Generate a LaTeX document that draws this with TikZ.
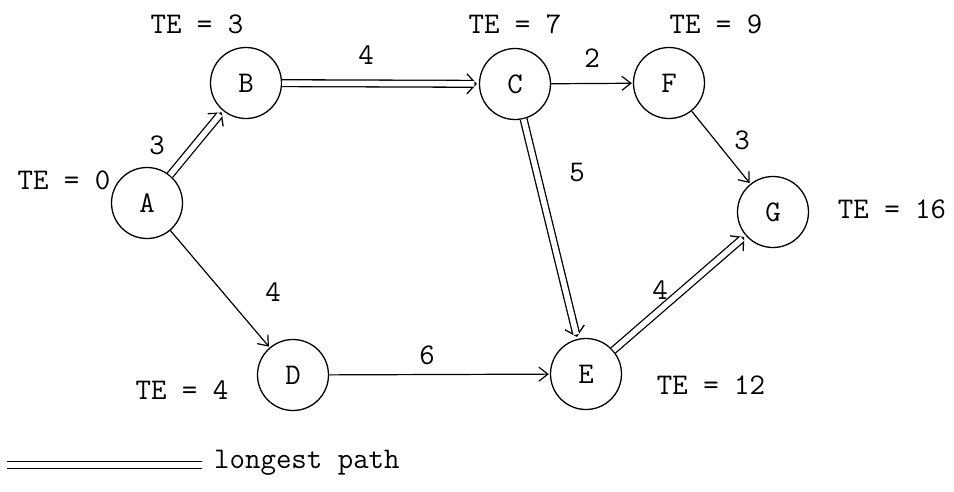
\documentclass[tikz,border=0pt]{standalone}
\usepackage{fontspec}
\usetikzlibrary{arrows.meta}
\begin{document}
\begin{tikzpicture}[x=1pt,y=-1pt,
  event/.style={circle, draw, line width=1.3pt, minimum size=71pt, inner sep=0pt,
    font=\fontsize{30}{30}\selectfont\ttfamily},
  tag/.style={font=\fontsize{30}{30}\selectfont\ttfamily, inner sep=0pt},
  weight/.style={font=\fontsize{30}{30}\selectfont\ttfamily, inner sep=0pt},
  act/.style={line width=1.2pt, -{Straight Barb[length=9pt,width=14pt]}, shorten >=1pt},
  critline/.style={double, line width=1.3pt, double distance=5.5pt},
  % double-line activity with a wide open head: thin stroke carries the tip,
  % then a black band and a white core form the double shaft
  crit/.style={line width=1.3pt, -{Straight Barb[length=9pt,width=20pt]}, shorten >=2pt,
    postaction={draw, -, line width=8.1pt, shorten >=5.6pt},
    postaction={draw=white, -, line width=5.5pt, shorten >=4.5pt}}]
\useasboundingbox (0,0) rectangle (954,491);

% events
\node[event] (A) at (147,203) {A};
\node[event] (B) at (246,83)  {B};
\node[event] (C) at (515,84)  {C};
\node[event] (F) at (669,83)  {F};
\node[event] (G) at (773,212) {G};
\node[event] (D) at (293,375) {D};
\node[event] (E) at (586,374) {E};

% earliest event times
\node[tag] (tA) at (64,180)  {TE = 0};
\node[tag] (tB) at (197,24)  {TE = 3};
\node[tag] (tC) at (515,24)  {TE = 7};
\node[tag] (tF) at (716,24)  {TE = 9};
\node[tag] (tG) at (892,209) {TE = 16};
\node[tag] (tD) at (182,390) {TE = 4};
\node[tag] (tE) at (711,385) {TE = 12};

% activities
\draw[crit] (A) -- (B);
\draw[crit] (B) -- (C);
\draw[crit] (C) -- (E);
\draw[crit] (E) -- (G);
\draw[act] (C) -- (F);
\draw[act] (F) -- (G);
\draw[act] (A) -- (D);
\draw[act] (D) -- (E);

% durations
\node[weight] (wAB) at (157,145) {3};
\node[weight] (wBC) at (366,55)  {4};
\node[weight] (wCF) at (592,58)  {2};
\node[weight] (wFG) at (742,140) {3};
\node[weight] (wCE) at (577,173) {5};
\node[weight] (wAD) at (273,292) {4};
\node[weight] (wDE) at (427,355) {6};
\node[weight] (wEG) at (660,290) {4};

% legend
\coordinate (k1) at (7,465);
\coordinate (k2) at (202,465);
\draw[critline] (k1) -- (k2);
\node[tag, anchor=west] (key) at (214,463) {longest path};
\end{tikzpicture}
\end{document}
